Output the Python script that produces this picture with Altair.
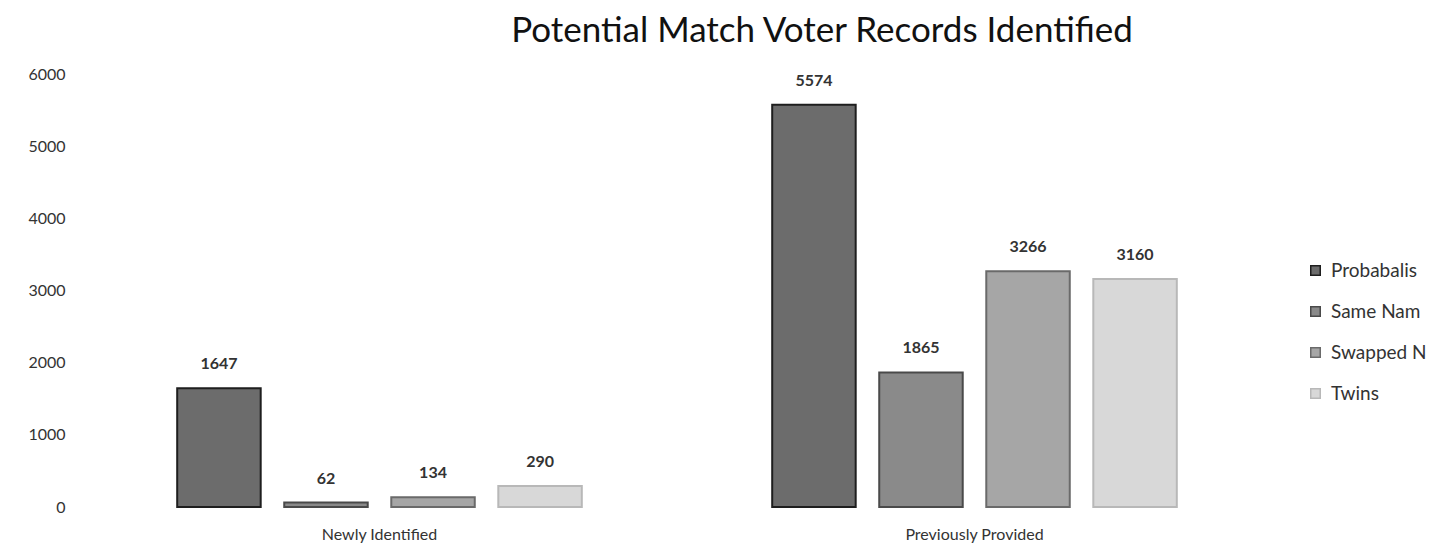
import altair as alt
import pandas as pd

groups = ["Newly Identified", "Previously Provided"]
series = ["Probabalis", "Same Nam", "Swapped N", "Twins"]
newly = [1647, 62, 134, 290]
previously = [5574, 1865, 3266, 3160]
fills = ["#6c6c6c", "#8a8a8a", "#a6a6a6", "#d8d8d8"]
strokes = ["#1e1e1e", "#4a4a4a", "#6a6a6a", "#b8b8b8"]

rows = []
for s, v in zip(series, newly):
    rows.append({"group": groups[0], "series": s, "value": v})
for s, v in zip(series, previously):
    rows.append({"group": groups[1], "series": s, "value": v})
df = pd.DataFrame(rows)

FONT = "Lato"

x = alt.X("group:N", sort=groups, title=None,
          scale=alt.Scale(paddingInner=0.32, paddingOuter=0.16),
          axis=alt.Axis(labelAngle=0, domain=False, ticks=False, labelFontSize=16,
                        labelColor="#333333", labelPadding=19, labelFont=FONT))
xo = alt.XOffset("series:N", sort=series, scale=alt.Scale(paddingInner=0.22))
y = alt.Y("value:Q", title=None,
          scale=alt.Scale(domain=[0, 6000]),
          axis=alt.Axis(values=[0, 1000, 2000, 3000, 4000, 5000, 6000], format="d", grid=False,
                        domain=False, ticks=False, labelFontSize=16, labelColor="#333333",
                        labelPadding=17, labelFont=FONT))

base = alt.Chart(df)

bars = base.mark_bar(strokeWidth=2).encode(
    x=x, xOffset=xo, y=y,
    color=alt.Color("series:N", sort=series,
                    scale=alt.Scale(domain=series, range=fills),
                    legend=alt.Legend(title=None, orient="none", legendX=1224, legendY=187,
                                      symbolType="square", symbolSize=90, symbolStrokeWidth=1.5,
                                      labelFontSize=19, labelFont=FONT, labelColor="#333333",
                                      rowPadding=21, labelLimit=250, labelOffset=6)),
    stroke=alt.Stroke("series:N", sort=series,
                      scale=alt.Scale(domain=series, range=strokes), legend=None),
)

labels = base.mark_text(baseline="bottom", dy=-16, fontSize=16, fontWeight="bold",
                        font=FONT, color="#333333").encode(
    x=x, xOffset=xo, y=y, text=alt.Text("value:Q", format="d"))

chart = (bars + labels).properties(
    width=1190, height=433,
    autosize=alt.AutoSizeParams(type="none"),
    padding={"left": 74, "top": 66, "right": 160, "bottom": 41},
    title=alt.TitleParams("Potential Match Voter Records Identified", fontSize=35,
                          fontWeight="normal", font=FONT, color="#111111",
                          anchor="middle", dx=145, offset=17),
).configure_view(stroke=None)

chart.save("out.html", embed_options={"renderer": "svg", "actions": False})
